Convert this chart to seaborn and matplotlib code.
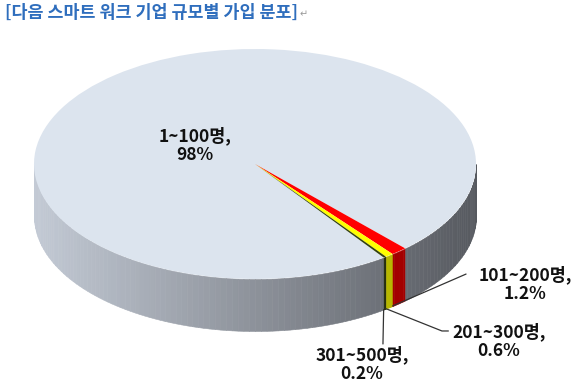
import numpy as np
import pandas as pd
import matplotlib
matplotlib.use("Agg")
import matplotlib.pyplot as plt
from matplotlib.colors import to_rgb
import seaborn as sns

# ---------------- data ----------------
categories = ["1~100명", "101~200명", "201~300명", "301~500명"]
shares = [98.0, 1.2, 0.6, 0.2]
pct_labels = ["98%", "1.2%", "0.6%", "0.2%"]
title = "[다음 스마트 워크 기업 규모별 가입 분포]"

df = pd.DataFrame({"category": categories, "share": shares, "pct": pct_labels})

# ---------------- style ----------------
sns.set_theme(style="white")
plt.rcParams["font.family"] = ["Noto Sans CJK KR", "DejaVu Sans"]

top_colors = ["#DCE4EE", "#FF0000", "#FFFF00", "#34420C"]
side_colors = [None, "#A30000", "#B8B800", "#1E2606"]
grad_left = np.array(to_rgb("#C3CAD5"))
grad_right = np.array(to_rgb("#56595F"))

START = -54.4          # start angle of first wedge (clockwise)
RX_PX, RY_PX = 221, 115
CX_PX, CY_PX = 255, 164
DEPTH = 52 / RY_PX     # side wall height in y units
W, H = 580, 390

fig = plt.figure(figsize=(W / 100, H / 100), dpi=100)
ax = fig.add_axes([0, 0, 1, 1])

# top face
wedges, _ = ax.pie(df["share"], colors=top_colors, startangle=START,
                   counterclock=False, radius=1, center=(0, 0), frame=True,
                   wedgeprops=dict(linewidth=0))
for w in wedges:
    w.set_zorder(3)


def wedge_index(angle_deg):
    for i, w in enumerate(wedges):
        if (angle_deg - w.theta1) % 360 < (w.theta2 - w.theta1):
            return i
    return 0


# side wall (front half of the ellipse)
breaks = set(np.arange(180, 360.001, 1.5))
for w in wedges:
    for tt in (w.theta1, w.theta2):
        tm = tt % 360
        if 180 < tm < 360:
            breaks.add(tm)
breaks = sorted(breaks)
for a, b in zip(breaks[:-1], breaks[1:]):
    if b - a < 1e-6:
        continue
    m = (a + b) / 2
    i = wedge_index(m)
    if side_colors[i] is None:
        f = (np.cos(np.radians(m)) + 1) / 2
        col = grad_left * (1 - f) + grad_right * f
    else:
        col = side_colors[i]
    th = np.radians(np.linspace(a, b, 8))
    x = np.cos(th)
    ytop = np.sin(th)
    ax.fill_between(x, ytop - DEPTH, ytop, color=col, lw=0.4, ec=col, zorder=1)

# labels
LBL_FS = 12.5
ax.text(-0.271, 0.165, f"{df.category[0]},\n{df.pct[0]}", ha="center", va="center",
        fontsize=LBL_FS, fontweight="bold", color="#111111", linespacing=1.05, zorder=5)

label_pos = {1: (1.222, -1.043), 2: (1.104, -1.539), 3: (0.484, -1.739)}
leader = {1: [(0.955, -0.957)],
          2: [(0.846, -1.452), (0.875, -1.452)],
          3: [(0.579, -1.565)]}
for i in (1, 2, 3):
    th = np.radians(wedges[i].theta1)
    ax0, ay0 = np.cos(th), np.sin(th) - DEPTH
    pts = [(ax0, ay0)] + leader[i]
    ax.plot([p[0] for p in pts], [p[1] for p in pts], color="#333333", lw=0.9, zorder=4)
    tx, ty = label_pos[i]
    ax.text(tx, ty, f"{df.category[i]},\n{df.pct[i]}", ha="center", va="center",
            fontsize=LBL_FS, fontweight="bold", color="#111111", linespacing=1.05, zorder=5)

ax.set_aspect("auto")
ax.set_xlim(-CX_PX / RX_PX, (W - CX_PX) / RX_PX)
ax.set_ylim(-(H - CY_PX) / RY_PX, CY_PX / RY_PX)
ax.axis("off")

t = fig.text(5 / W, 1 - 13 / H, title, color="#2F6EBD", fontsize=12.5,
             fontweight="bold", ha="left", va="center")
ax.annotate("↵", xy=(1, 0.45), xycoords=t, xytext=(1, 0), textcoords="offset points",
            ha="left", va="center", fontsize=7, color="#9A9A9A",
            annotation_clip=False)

fig.savefig("out.png", dpi=100)
